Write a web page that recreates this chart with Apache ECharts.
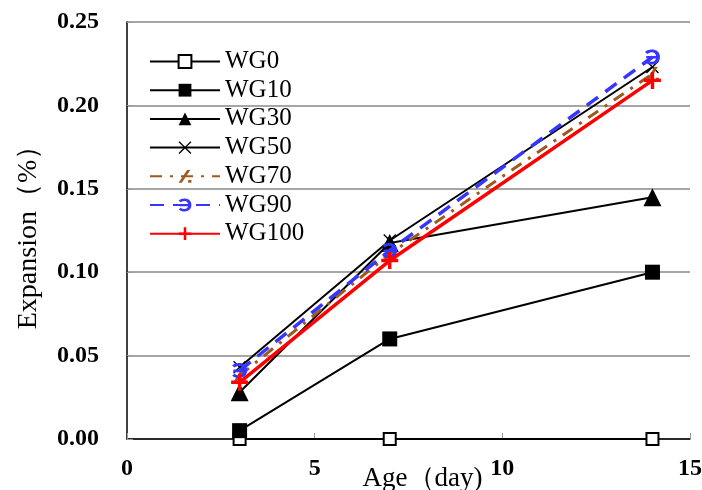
<!DOCTYPE html>
<html>
<head>
<meta charset="utf-8">
<script src="https://cdn.jsdelivr.net/npm/echarts@6/dist/echarts.min.js"></script>
<style>html,body{margin:0;padding:0;background:#fff}#c{width:702px;height:490px}</style>
</head>
<body>
<div id="c"></div>
<script>
var ages = [3, 7, 14];
var seriesNames = ['WG0', 'WG10', 'WG30', 'WG50', 'WG70', 'WG90', 'WG100'];
var wg0 = [0, 0, 0];
var wg10 = [0.005, 0.06, 0.10];
var wg30 = [0.028, 0.1175, 0.145];
var wg50 = [0.043, 0.119, 0.223];
var wg70 = [0.038, 0.111, 0.219];
var wg90 = [0.041, 0.113, 0.229];
var wg100 = [0.034, 0.107, 0.215];
var xTicks = [0, 5, 10, 15];
var yTicks = [0, 0.05, 0.10, 0.15, 0.20, 0.25];

function pts(v) { return ages.map(function (a, i) { return [a, v[i]]; }); }

var SERIF = '"Liberation Serif","DejaVu Serif",serif';
var xPath = 'path://M0,1.5 L1.5,0 L10,8.5 L18.5,0 L20,1.5 L11.5,10 L20,18.5 L18.5,20 L10,11.5 L1.5,20 L0,18.5 L8.5,10 Z';
var plusPath = 'path://M8,0 L12,0 L12,8 L20,8 L20,12 L12,12 L12,20 L8,20 L8,12 L0,12 L0,8 L8,8 Z';
var slashPath = 'path://M10,0 L13,0 L5,14 L2,14 Z M11,11 L14,11 L14,14 L11,14 Z';
var epsPath = 'path://M4,3 C8,-1 16,0 16,8 C16,16 8,17 4,13 L6,11 C9,14 13,13 13,8 C13,3 9,2 6,5 Z M5,7 L14,7 L14,9.5 L5,9.5 Z';

function mk(name, data, color, symbol, size, lw, ltype, fill, z) {
  return {
    name: name, type: 'line', data: pts(data), z: z,
    symbol: symbol, symbolSize: size,
    lineStyle: { color: color, width: lw, type: ltype },
    itemStyle: { color: fill, borderColor: color, borderWidth: fill === '#fff' ? 2 : 0 },
    emphasis: { disabled: true }, animation: false
  };
}

var chart = echarts.init(document.getElementById('c'));
chart.setOption({
  animation: false,
  grid: { left: 127, right: 12, top: 22, bottom: 51, containLabel: false, outerBoundsMode: 'none' },
  legend: {
    orient: 'vertical', left: 144, top: 44,
    itemWidth: 70, itemHeight: 16, itemGap: 3.7,
    textStyle: { fontFamily: SERIF, fontSize: 25, color: '#000' },
    data: seriesNames
  },
  xAxis: {
    type: 'value', min: 0, max: 15, interval: 5,
    name: 'Age（day)', nameLocation: 'middle', nameGap: 26, nameMoveOverlap: false,
    nameTextStyle: { fontFamily: SERIF, fontSize: 27, color: '#000', padding: [0, 0, 0, 28] },
    axisLine: { lineStyle: { color: '#000', width: 1.5 } },
    axisTick: { show: true, inside: true, length: 6, lineStyle: { color: '#999' } },
    axisLabel: { fontFamily: SERIF, fontSize: 24, fontWeight: 'bold', color: '#000', margin: 18,
      formatter: function (v) { return xTicks.indexOf(v) >= 0 ? String(v) : ''; } },
    splitLine: { show: false }
  },
  yAxis: {
    type: 'value', min: 0, max: 0.25, interval: 0.05,
    name: 'Expansion（%）', nameLocation: 'middle', nameGap: 84, nameRotate: 90, nameMoveOverlap: false,
    nameTextStyle: { fontFamily: SERIF, fontSize: 28, color: '#000' },
    axisLine: { show: true, lineStyle: { color: '#000', width: 1.5 } },
    axisTick: { show: true, inside: true, length: 6, lineStyle: { color: '#999' } },
    axisLabel: { fontFamily: SERIF, fontSize: 24, fontWeight: 'bold', color: '#000', margin: 28,
      formatter: function (v) {
        for (var i = 0; i < yTicks.length; i++) if (Math.abs(yTicks[i] - v) < 1e-9) return yTicks[i].toFixed(2);
        return '';
      } },
    splitLine: { show: true, lineStyle: { color: '#888', width: 1.5 } }
  },
  series: [
    mk('WG0', wg0, '#000', 'rect', 12, 2, 'solid', '#fff', 2),
    mk('WG10', wg10, '#000', 'rect', 15, 2, 'solid', '#000', 3),
    mk('WG30', wg30, '#000', 'triangle', 18, 2, 'solid', '#000', 4),
    mk('WG50', wg50, '#000', xPath, 13, 2, 'solid', '#000', 5),
    mk('WG70', wg70, '#9C5A1E', slashPath, [13, 14], 3, [12, 8, 3, 8], '#9C5A1E', 6),
    mk('WG90', wg90, '#3636FF', epsPath, [15, 15], 3.5, [14, 9], '#3636FF', 7),
    mk('WG100', wg100, '#FF0000', plusPath, 17, 3.5, 'solid', '#FF0000', 8)
  ]
});
</script>
</body>
</html>
